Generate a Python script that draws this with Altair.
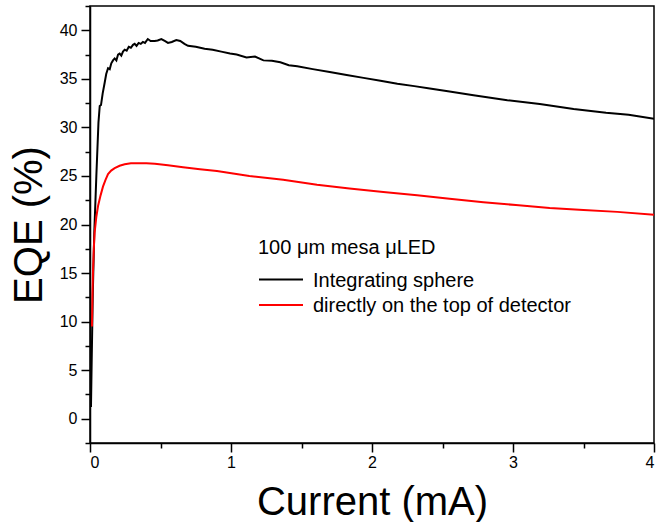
import altair as alt
import pandas as pd

# Black: integrating sphere
black_x = [0.007, 0.012, 0.02, 0.03, 0.045, 0.06, 0.069, 0.078, 0.09, 0.104, 0.115, 0.128,
           0.14, 0.151, 0.163, 0.175, 0.187, 0.199, 0.21, 0.222, 0.234, 0.246, 0.26, 0.275,
           0.29, 0.305, 0.317, 0.33, 0.345, 0.36, 0.375, 0.39, 0.41, 0.43, 0.459, 0.48,
           0.506, 0.53, 0.553, 0.58, 0.612, 0.64, 0.67, 0.695, 0.75, 0.813, 0.87, 0.931,
           0.993, 1.04, 1.11, 1.17, 1.23, 1.29, 1.35, 1.41, 1.47, 1.58, 1.70, 1.82, 1.94,
           2.06, 2.18, 2.30, 2.41, 2.55, 2.72, 2.96, 3.19, 3.43, 3.66, 3.82, 4.0]
black_y = [1.2, 6.0, 13.0, 19.0, 25.0, 30.5, 32.2, 32.3, 33.5, 34.6, 35.5, 36.1,
           36.0, 36.6, 36.9, 37.1, 36.9, 37.5, 37.6, 37.4, 37.8, 38.0, 37.9, 38.3,
           38.2, 38.5, 38.6, 38.4, 38.7, 38.6, 38.8, 38.7, 39.1, 38.9, 38.9, 38.95,
           39.1, 38.9, 38.7, 38.8, 39.0, 38.9, 38.6, 38.4, 38.3, 38.1, 38.0, 37.8,
           37.6, 37.5, 37.2, 37.3, 36.9, 36.85, 36.7, 36.4, 36.3, 36.0, 35.7, 35.4, 35.1,
           34.8, 34.5, 34.25, 34.0, 33.7, 33.3, 32.8, 32.4, 31.9, 31.5, 31.3, 30.9]

# Red: directly on the top of detector
red_x = [0.014, 0.017, 0.021, 0.027, 0.033, 0.045, 0.057, 0.075, 0.092, 0.11, 0.128, 0.15,
         0.175, 0.21, 0.246, 0.29, 0.34, 0.40, 0.46, 0.553, 0.66, 0.78, 0.90, 1.13, 1.37,
         1.61, 1.84, 2.08, 2.32, 2.55, 2.79, 3.02, 3.26, 3.5, 3.74, 4.0]
red_y = [9.5, 12.5, 15.0, 17.5, 19.2, 20.8, 21.9, 23.0, 23.9, 24.6, 25.2, 25.55,
         25.8, 26.05, 26.2, 26.3, 26.3, 26.3, 26.25, 26.1, 25.9, 25.7, 25.5, 25.0, 24.6,
         24.1, 23.7, 23.35, 23.0, 22.65, 22.3, 22.0, 21.7, 21.5, 21.3, 21.0]

series_names = ["Integrating sphere", "directly on the top of detector"]
series_colors = ["black", "red"]
legend_title = "100 \u03bcm mesa \u03bcLED"

x_ticks = [i * 0.5 for i in range(9)]
y_ticks = [-2.5 + i * 2.5 for i in range(19)]

df = pd.concat([
    pd.DataFrame({"x": black_x, "y": black_y, "series": series_names[0], "order": range(len(black_x))}),
    pd.DataFrame({"x": red_x, "y": red_y, "series": series_names[1], "order": range(len(red_x))}),
])
legend_df = pd.DataFrame({"series": series_names, "row": [0, 1]})
title_df = pd.DataFrame({"t": [legend_title]})

color_scale = alt.Scale(domain=series_names, range=series_colors)
LEG_FS = 20

lines = alt.Chart(df).mark_line(strokeWidth=2, clip=True).encode(
    x=alt.X("x:Q", scale=alt.Scale(domain=[0, 4], nice=False, zero=False),
            axis=alt.Axis(title="Current (mA)", values=x_ticks, format=".0f",
                          labelExpr="datum.value % 1 === 0 ? datum.label : ''",
                          tickSize={"condition": {"test": "datum.value % 1 !== 0", "value": 5}, "value": 9},
                          labelPadding=2, titlePadding=12)),
    y=alt.Y("y:Q", scale=alt.Scale(domain=[-2.5, 42.5], nice=False, zero=False),
            axis=alt.Axis(title="EQE (%)", values=y_ticks, format=".0f",
                          labelExpr="datum.value % 5 === 0 ? datum.label : ''",
                          tickSize={"condition": {"test": "datum.value % 5 !== 0", "value": 5}, "value": 9},
                          labelPadding=4, titlePadding=10)),
    color=alt.Color("series:N", scale=color_scale, legend=None),
    order="order:Q",
)

leg_rules = alt.Chart(legend_df).mark_rule(strokeWidth=2).encode(
    x=alt.value(169), x2=alt.value(213),
    y=alt.Y("row:Q", scale=alt.Scale(domain=[0, 1], range=[273.5, 299]), axis=None),
    color=alt.Color("series:N", scale=color_scale, legend=None),
)
leg_text = alt.Chart(legend_df).mark_text(align="left", baseline="alphabetic", fontSize=LEG_FS,
                                          color="black").encode(
    x=alt.value(223),
    y=alt.Y("row:Q", scale=alt.Scale(domain=[0, 1], range=[281, 306]), axis=None),
    text="series:N",
)
leg_title = alt.Chart(title_df).mark_text(align="left", baseline="alphabetic", fontSize=LEG_FS,
                                          color="black").encode(
    x=alt.value(168), y=alt.value(248), text="t:N",
)

chart = alt.layer(lines, leg_rules, leg_text, leg_title).resolve_scale(
    y="independent"
).properties(
    width=564, height=437,
    autosize=alt.AutoSizeParams(type="none"),
    padding={"left": 90, "top": 6, "right": 3, "bottom": 79},
).configure(
    font="Liberation Sans",
).configure_view(
    stroke="black", strokeWidth=1.5,
).configure_axis(
    grid=False, domainColor="black", domainWidth=1.5, tickColor="black", tickWidth=1.5,
    labelColor="black", titleColor="black", labelFontSize=16, titleFontSize=40,
    titleFontWeight="normal",
)

chart.save("out.html", embed_options={"renderer": "svg", "actions": False})
